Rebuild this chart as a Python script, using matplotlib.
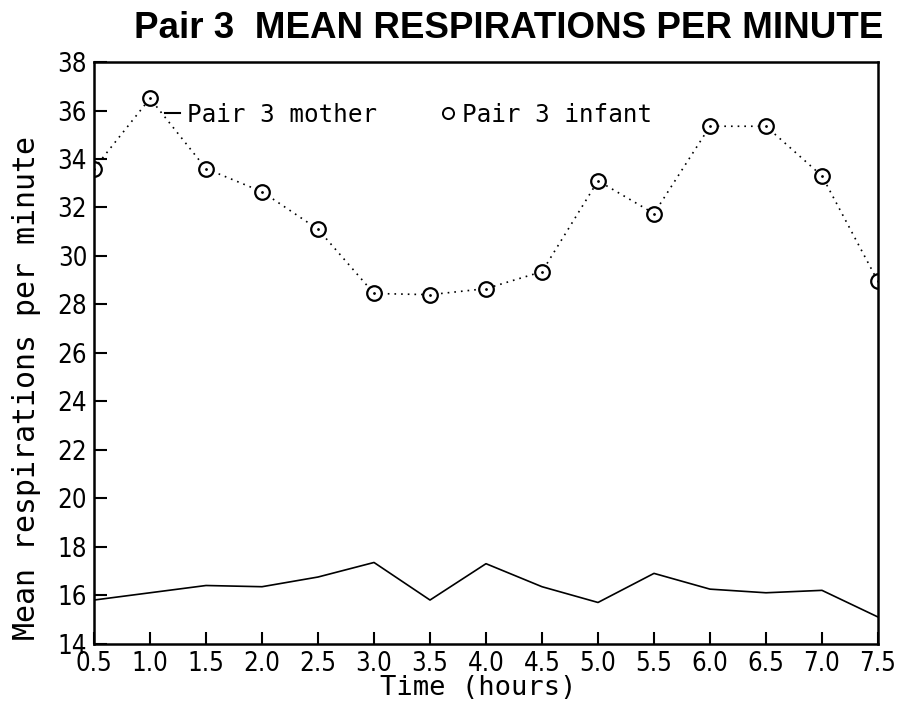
import matplotlib
matplotlib.use('Agg')
from matplotlib import pyplot as plt
from matplotlib.lines import Line2D

hours = [0.5, 1.0, 1.5, 2.0, 2.5, 3.0, 3.5, 4.0, 4.5, 5.0, 5.5, 6.0, 6.5, 7.0, 7.5]
mother = [15.8, 16.1, 16.4, 16.35, 16.75, 17.35, 15.8, 17.3, 16.35, 15.7, 16.9, 16.25, 16.1, 16.2, 15.1]
infant = [33.6, 36.5, 33.6, 32.65, 31.1, 28.45, 28.4, 28.65, 29.35, 33.1, 31.75, 35.35, 35.35, 33.3, 28.95]
yticks = list(range(14, 39, 2))

fig = plt.figure(figsize=(8.98, 7.05), dpi=100)
ax = fig.add_axes([0.1047, 0.087, 0.873, 0.825])

ax.plot(hours, mother, color='black', lw=1.2)
ax.plot(hours, infant, color='black', lw=1.2, ls=(0, (1, 3)), marker='o',
        markersize=10.5, markerfacecolor='white', markeredgecolor='black',
        markeredgewidth=1.6)
# dot in the middle of each circle
ax.plot(hours, infant, ls='none', marker='.', markersize=2, color='black')

ax.set_xlim(0.5, 7.5)
ax.set_ylim(14, 38)
ax.set_xticks(hours)
ax.set_xticklabels([f'{h:.1f}' for h in hours])
ax.set_yticks(yticks)

for lab in ax.get_xticklabels() + ax.get_yticklabels():
    lab.set_fontfamily('DejaVu Sans')
    lab.set_fontstretch('condensed')
    lab.set_fontsize(18.5)

ax.tick_params(axis='both', direction='in', length=9, width=1.5, pad=5)
ax.tick_params(axis='x', pad=5)
for s in ax.spines.values():
    s.set_linewidth(1.8)

ax.set_xlabel('Time (hours)', fontsize=19.5, family='DejaVu Sans Mono')
ax.xaxis.set_label_coords(0.49, -0.054)
ax.set_ylabel('Mean respirations per minute', fontsize=21.5, family='DejaVu Sans Mono')
ax.yaxis.set_label_coords(-0.068, 0.44)
fig.suptitle('Pair 3  MEAN RESPIRATIONS PER MINUTE', x=0.566, y=0.985,
             fontsize=26.5, fontweight='bold', family='Liberation Sans')

handles = [Line2D([], [], color='black', lw=1.5),
           Line2D([], [], ls='none', marker='o', markersize=8, markerfacecolor='white',
                  markeredgecolor='black', markeredgewidth=1.4)]
ax.legend(handles, ['Pair 3 mother', 'Pair 3 infant'], loc='upper left',
          bbox_to_anchor=(0.063, 0.968), ncol=2, frameon=False,
          prop={'family': 'DejaVu Sans Mono', 'size': 17.5},
          handlelength=0.6, handletextpad=0.3, columnspacing=2.6)

plt.savefig('out.png', dpi=100)
